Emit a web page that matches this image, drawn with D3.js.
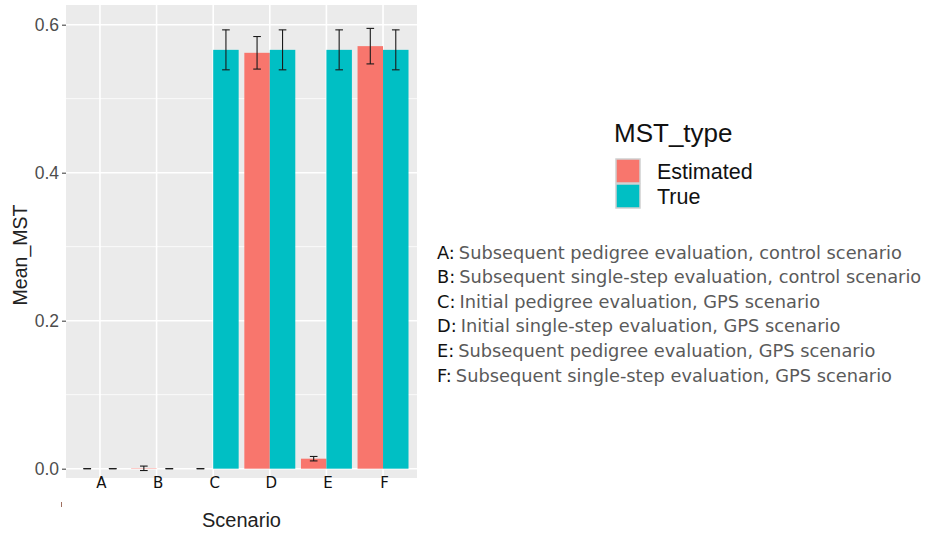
<!DOCTYPE html>
<meta charset="utf-8">
<script src="https://d3js.org/d3.v7.min.js"></script>
<style>
body { margin: 0; background: #fff; }
text { font-family: "Liberation Sans", Arial, sans-serif; }
.note { font-family: "DejaVu Sans", Verdana, sans-serif; font-size: 17.8px; }
</style>
<body>
<script>

// data
var scenarios = ["A", "B", "C", "D", "E", "F"];
var types = ["Estimated", "True"];
var estMean = [0, 0.0005, 0, 0.562, 0.0135, 0.571];
var estSd = [0, 0.003, 0, 0.022, 0.003, 0.024];
var trueMean = [0, 0, 0.566, 0.566, 0.566, 0.566];
var trueSd = [0, 0, 0.027, 0.027, 0.027, 0.027];
var yTicks = [0, 0.2, 0.4, 0.6];
var notes = [
  ["A:", "Subsequent pedigree evaluation, control scenario"],
  ["B:", "Subsequent single-step evaluation, control scenario"],
  ["C:", "Initial pedigree evaluation, GPS scenario"],
  ["D:", "Initial single-step evaluation, GPS scenario"],
  ["E:", "Subsequent pedigree evaluation, GPS scenario"],
  ["F:", "Subsequent single-step evaluation, GPS scenario"]
];
var colors = {Estimated: "#F8766D", True: "#00BFC4"};

var rows = [];
scenarios.forEach(function(s, i) {
  rows.push({scen: s, type: "Estimated", mean: estMean[i], sd: estSd[i]});
  rows.push({scen: s, type: "True", mean: trueMean[i], sd: trueSd[i]});
});

var width = 932, height = 539;
var panel = {left: 66, right: 417, top: 5, bottom: 478};

var svg = d3.select("body").append("svg")
    .attr("width", width)
    .attr("height", height);

var x = d3.scaleBand()
    .domain(scenarios)
    .range([panel.left, panel.right])
    .paddingInner(0.1)
    .paddingOuter(0.15);

var xs = d3.scaleBand()
    .domain(types)
    .range([0, x.bandwidth()]);

var y = d3.scaleLinear()
    .domain([-0.0126, 0.6266])
    .range([panel.bottom, panel.top]);

// panel background
svg.append("rect")
    .attr("x", panel.left)
    .attr("y", panel.top)
    .attr("width", panel.right - panel.left)
    .attr("height", panel.bottom - panel.top)
    .attr("fill", "#EBEBEB");

// minor gridlines
var minor = [0.1, 0.3, 0.5];
svg.append("g").selectAll("line")
    .data(minor)
  .enter().append("line")
    .attr("x1", panel.left).attr("x2", panel.right)
    .attr("y1", function(d) { return y(d); })
    .attr("y2", function(d) { return y(d); })
    .attr("stroke", "#fff")
    .attr("stroke-width", 0.8);

// major gridlines
svg.append("g").selectAll("line")
    .data(yTicks)
  .enter().append("line")
    .attr("x1", panel.left).attr("x2", panel.right)
    .attr("y1", function(d) { return y(d); })
    .attr("y2", function(d) { return y(d); })
    .attr("stroke", "#fff")
    .attr("stroke-width", 1.6);

svg.append("g").selectAll("line")
    .data(scenarios)
  .enter().append("line")
    .attr("x1", function(d) { return x(d) + x.bandwidth() / 2; })
    .attr("x2", function(d) { return x(d) + x.bandwidth() / 2; })
    .attr("y1", panel.top).attr("y2", panel.bottom)
    .attr("stroke", "#fff")
    .attr("stroke-width", 1.6);

// bars
svg.append("g").selectAll("rect")
    .data(rows)
  .enter().append("rect")
    .attr("x", function(d) { return x(d.scen) + xs(d.type); })
    .attr("width", xs.bandwidth())
    .attr("y", function(d) { return y(d.mean); })
    .attr("height", function(d) { return y(0) - y(d.mean); })
    .attr("fill", function(d) { return colors[d.type]; });

// error bars
var cap = xs.bandwidth() * 0.3;
var eb = svg.append("g").selectAll("g")
    .data(rows)
  .enter().append("g")
    .attr("stroke", "#1a1a1a")
    .attr("stroke-width", 1.1);

function cx(d) { return x(d.scen) + xs(d.type) + xs.bandwidth() / 2; }

eb.append("line")
    .attr("x1", cx).attr("x2", cx)
    .attr("y1", function(d) { return y(d.mean + d.sd); })
    .attr("y2", function(d) { return y(d.mean - d.sd); });
eb.append("line")
    .attr("x1", function(d) { return cx(d) - cap / 2; })
    .attr("x2", function(d) { return cx(d) + cap / 2; })
    .attr("y1", function(d) { return y(d.mean + d.sd); })
    .attr("y2", function(d) { return y(d.mean + d.sd); });
eb.append("line")
    .attr("x1", function(d) { return cx(d) - cap / 2; })
    .attr("x2", function(d) { return cx(d) + cap / 2; })
    .attr("y1", function(d) { return y(d.mean - d.sd); })
    .attr("y2", function(d) { return y(d.mean - d.sd); });

// y axis
var yAxis = svg.append("g")
    .attr("transform", "translate(" + panel.left + ",0)")
    .call(d3.axisLeft(y).tickValues(yTicks).tickFormat(d3.format(".1f")).tickSize(4).tickPadding(3));
yAxis.select(".domain").remove();
yAxis.selectAll("line").attr("stroke", "#333");
yAxis.selectAll("text")
    .attr("fill", "#4D4D4D")
    .style("font-family", "Liberation Sans, Arial, sans-serif")
    .style("font-size", "17.5px");

// category labels
svg.append("g").selectAll("text")
    .data(scenarios)
  .enter().append("text")
    .attr("x", function(d) { return x(d) + x.bandwidth() / 2 + 1.5; })
    .attr("y", 488)
    .attr("text-anchor", "middle")
    .style("font-family", "DejaVu Sans, sans-serif")
    .style("font-size", "15px")
    .attr("fill", "#111")
    .text(function(d) { return d; });

// axis titles
svg.append("text")
    .attr("x", (panel.left + panel.right) / 2)
    .attr("y", 527)
    .attr("text-anchor", "middle")
    .style("font-size", "20px")
    .attr("fill", "#222")
    .text("Scenario");

svg.append("text")
    .attr("transform", "translate(27,255) rotate(-90)")
    .attr("text-anchor", "middle")
    .style("font-size", "19.5px")
    .attr("fill", "#222")
    .text("Mean_MST");

// stray mark under the axis
svg.append("line")
    .attr("x1", 61.5).attr("x2", 61.5)
    .attr("y1", 502).attr("y2", 507)
    .attr("stroke", "#a07060")
    .attr("stroke-width", 1);

// legend
var legend = svg.append("g");
legend.append("text")
    .attr("x", 614)
    .attr("y", 142)
    .style("font-size", "26px")
    .attr("fill", "#111")
    .text("MST_type");

var item = legend.selectAll(".item")
    .data(types)
  .enter().append("g")
    .attr("transform", function(d, i) { return "translate(616," + (159 + i * 25) + ")"; });
item.append("rect")
    .attr("width", 24).attr("height", 24)
    .attr("fill", function(d) { return colors[d]; })
    .attr("stroke", "#d0d0d0")
    .attr("stroke-width", 1.5);
item.append("text")
    .attr("x", 41)
    .attr("y", 20)
    .style("font-size", "21.5px")
    .attr("fill", "#111")
    .text(function(d) { return d; });

// scenario notes
var note = svg.append("g").selectAll("text")
    .data(notes)
  .enter().append("text")
    .attr("class", "note")
    .attr("x", 437)
    .attr("y", function(d, i) { return 258.5 + i * 24.6; });
note.append("tspan")
    .attr("fill", "#111")
    .text(function(d) { return d[0]; });
note.append("tspan")
    .attr("fill", "#5a5a5a")
    .attr("dx", 4)
    .text(function(d) { return d[1]; });

</script>
</body>
</html>
